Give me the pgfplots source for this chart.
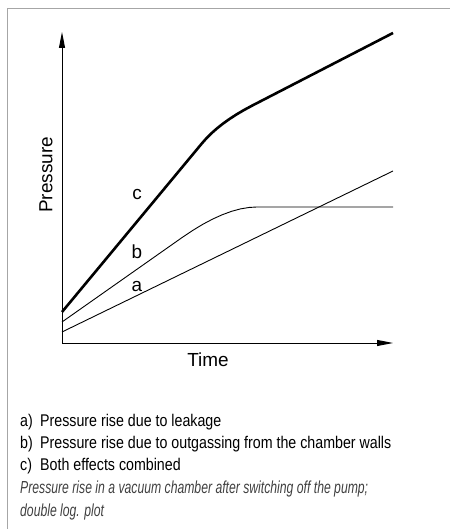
\documentclass[border=0pt]{standalone}
\usepackage{fontspec}
\setmainfont{Liberation Sans}
\newfontfamily\condensed[FakeStretch=0.84]{Liberation Sans}
\newfontfamily\condit[FakeStretch=0.70]{Liberation Sans}
\usepackage{pgfplots}
\pgfplotsset{compat=1.18}
\usetikzlibrary{arrows.meta}

\pgfplotstableread{
x y
0 11
331 172
}\curveA

\pgfplotstableread{
x y
0 21
120 105.4
130.69 112.57
141.0 118.8
150.94 124.05
160.5 128.35
169.69 131.70
178.5 134.1
186.94 135.52
195 136
331 136
}\curveB

\pgfplotstableread{
x y
0 31
140 199.7
144.5 204.78
149.5 209.74
155.0 214.6
161.0 219.36
167.5 224.0
174.5 228.54
182.0 232.97
190 237.3
331 310
}\curveC

\begin{document}
\begin{tikzpicture}[x=1bp,y=1bp]
\useasboundingbox (0,0) rectangle (450,529);
\draw[black!35, line width=0.8bp] (7,0) -- (7,521) -- (450,521);
\begin{axis}[
  at={(62,186)}, anchor=south west,
  scale only axis, width=331bp, height=311bp,
  xmin=0, xmax=331, ymin=0, ymax=311,
  axis lines=left,
  axis line style={line width=0.9bp, -{Triangle[length=16bp,width=6bp]}},
  xtick=\empty, ytick=\empty,
  clip=false,
  xlabel={Time}, ylabel={Pressure},
  label style={font=\fontsize{19}{22}\selectfont},
  xlabel style={at={(axis cs:146,-17)}, anchor=center},
  ylabel style={at={(axis cs:-16,168)}, anchor=center},
]
\addplot[black, line width=0.9bp] table[x=x,y=y] {\curveA};
\addplot[black, line width=0.9bp] table[x=x,y=y] {\curveB};
\addplot[black, line width=2.6bp, line join=round] table[x=x,y=y] {\curveC};
\node[font=\fontsize{19}{22}\selectfont] at (axis cs:75,148) {c};
\node[font=\fontsize{19}{22}\selectfont] at (axis cs:75,91) {b};
\node[font=\fontsize{19}{22}\selectfont] at (axis cs:75,56) {a};
\end{axis}
\begin{scope}[every node/.style={anchor=base west, inner sep=0pt, text=black}]
\node[font=\condensed\fontsize{17}{20}\selectfont] at (20,102) {\makebox[20bp][l]{a)}Pressure rise due to leakage};
\node[font=\condensed\fontsize{17}{20}\selectfont] at (20,80) {\makebox[20bp][l]{b)}Pressure rise due to outgassing from the chamber walls};
\node[font=\condensed\fontsize{17}{20}\selectfont] at (20,58) {\makebox[20bp][l]{c)}Both effects combined};
\node[font=\condit\itshape\fontsize{17.5}{20}\selectfont, text=black!75] at (20,35) {Pressure rise in a vacuum chamber after switching off the pump;};
\node[font=\condit\itshape\fontsize{17.5}{20}\selectfont, text=black!75] at (20,12) {double log. plot};
\end{scope}
\end{tikzpicture}
\end{document}
